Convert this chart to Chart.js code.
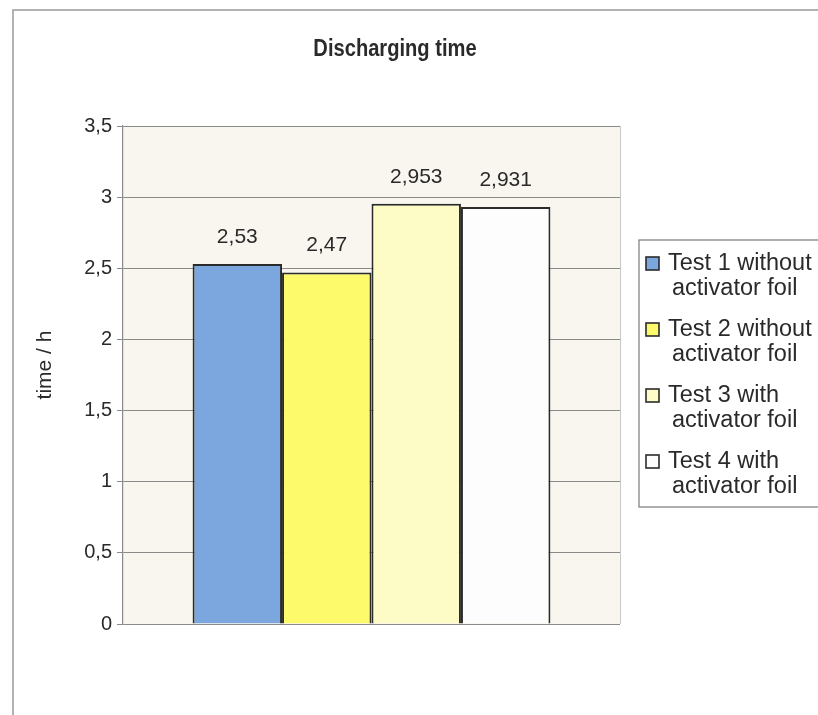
<!DOCTYPE html>
<html>
  <head>
    <meta charset="UTF-8">
    <title>Discharging time</title>
    <script src="https://cdn.jsdelivr.net/npm/chart.js"></script>
    <style>
      body { margin: 0; background: #fff; }
    </style>
  </head>
  <body>
    <canvas id="dischargeChart" width="818" height="715"></canvas>
    <script>
      const categories = [''];
      const seriesNames = [
        'Test 1 without activator foil',
        'Test 2 without activator foil',
        'Test 3 with activator foil',
        'Test 4 with activator foil'
      ];
      const seriesValues = [2.53, 2.47, 2.953, 2.931];
      const seriesColors = ['#7ba7de', '#fdfa6c', '#fefcc6', '#fdfdfd'];
      const yTicks = [0, 0.5, 1, 1.5, 2, 2.5, 3, 3.5];

      const fmt = v => String(v).replace('.', ',');
      const FONT = 'Liberation Sans, Arial, sans-serif';
      const INK = '#2a2a2a';

      // frame, title, axis title and plot background
      const backdrop = {
        id: 'backdrop',
        beforeDraw(chart) {
          const { ctx, chartArea: a } = chart;
          ctx.save();
          ctx.fillStyle = '#fff';
          ctx.fillRect(0, 0, chart.width, chart.height);
          ctx.strokeStyle = '#9a9a9a';
          ctx.lineWidth = 1.5;
          ctx.strokeRect(13, 10, 900, 800);
          ctx.fillStyle = '#f8f6ef';
          ctx.fillRect(a.left, a.top, a.right - a.left, a.bottom - a.top);
          ctx.strokeStyle = '#c8c8c8';
          ctx.lineWidth = 1;
          ctx.beginPath();
          ctx.moveTo(a.right + 0.5, a.top);
          ctx.lineTo(a.right + 0.5, a.bottom);
          ctx.stroke();

          ctx.fillStyle = INK;
          ctx.textAlign = 'center';
          ctx.textBaseline = 'middle';
          // narrow bold title
          ctx.save();
          ctx.translate(395, 50);
          ctx.scale(0.875, 1);
          ctx.font = 'bold 23px ' + FONT;
          ctx.fillText('Discharging time', 0, 0);
          ctx.restore();

          ctx.translate(45, 365);
          ctx.rotate(-Math.PI / 2);
          ctx.font = '21px ' + FONT;
          ctx.fillText('time / h', 0, 0);
          ctx.restore();
        }
      };

      // value labels over bars
      const valueLabels = {
        id: 'valueLabels',
        afterDatasetsDraw(chart) {
          const { ctx } = chart;
          ctx.save();
          ctx.font = '21px ' + FONT;
          ctx.fillStyle = INK;
          ctx.textAlign = 'center';
          ctx.textBaseline = 'middle';
          chart.data.datasets.forEach((ds, i) => {
            const bar = chart.getDatasetMeta(i).data[0];
            ctx.fillText(fmt(ds.data[0]), bar.x, bar.y - 27);
          });
          ctx.restore();
        }
      };

      // boxed legend with two-line labels
      const boxLegend = {
        id: 'boxLegend',
        afterDraw(chart) {
          const { ctx } = chart;
          ctx.save();
          ctx.strokeStyle = '#7a7a7a';
          ctx.lineWidth = 1.2;
          ctx.fillStyle = '#fff';
          ctx.fillRect(639, 240, 200, 267);
          ctx.strokeRect(639, 240, 200, 267);
          ctx.font = '23.5px ' + FONT;
          ctx.textBaseline = 'middle';
          ctx.textAlign = 'left';
          chart.data.datasets.forEach((ds, i) => {
            const y = 264 + i * 66;
            ctx.fillStyle = ds.backgroundColor;
            ctx.fillRect(646, y - 7, 13, 13);
            ctx.strokeStyle = '#2b2b2b';
            ctx.lineWidth = 1.6;
            ctx.strokeRect(646, y - 7, 13, 13);
            ctx.fillStyle = INK;
            const lines = ds.label.replace(' activator', '\nactivator').split('\n');
            ctx.fillText(lines[0], 668, y);
            ctx.fillText(lines[1], 672, y + 25);
          });
          ctx.restore();
        }
      };

      new Chart(document.getElementById('dischargeChart'), {
        type: 'bar',
        data: {
          labels: categories,
          datasets: seriesNames.map((name, i) => ({
            label: name,
            data: [seriesValues[i]],
            backgroundColor: seriesColors[i],
            borderColor: '#2b2b2b',
            borderWidth: 2,
            barPercentage: 1,
            categoryPercentage: 0.72
          }))
        },
        options: {
          responsive: false,
          animation: false,
          layout: { padding: { left: 0, right: 198, top: 126, bottom: 91 } },
          plugins: {
            legend: { display: false },
            tooltip: { enabled: false },
            title: { display: false }
          },
          scales: {
            x: { display: false },
            y: {
              min: 0,
              max: 3.5,
              afterBuildTicks(scale) {
                scale.ticks = yTicks.map(v => ({ value: v }));
              },
              afterFit(scale) { scale.width = 123; },
              grid: { color: '#8a8a8a', lineWidth: 1, tickLength: 6, drawTicks: true },
              border: { color: '#8a8a8a', width: 1.2 },
              ticks: {
                color: INK,
                padding: 5,
                font: { family: FONT, size: 20 },
                callback: v => fmt(v)
              }
            }
          }
        },
        plugins: [backdrop, valueLabels, boxLegend]
      });
    </script>
  </body>
</html>
